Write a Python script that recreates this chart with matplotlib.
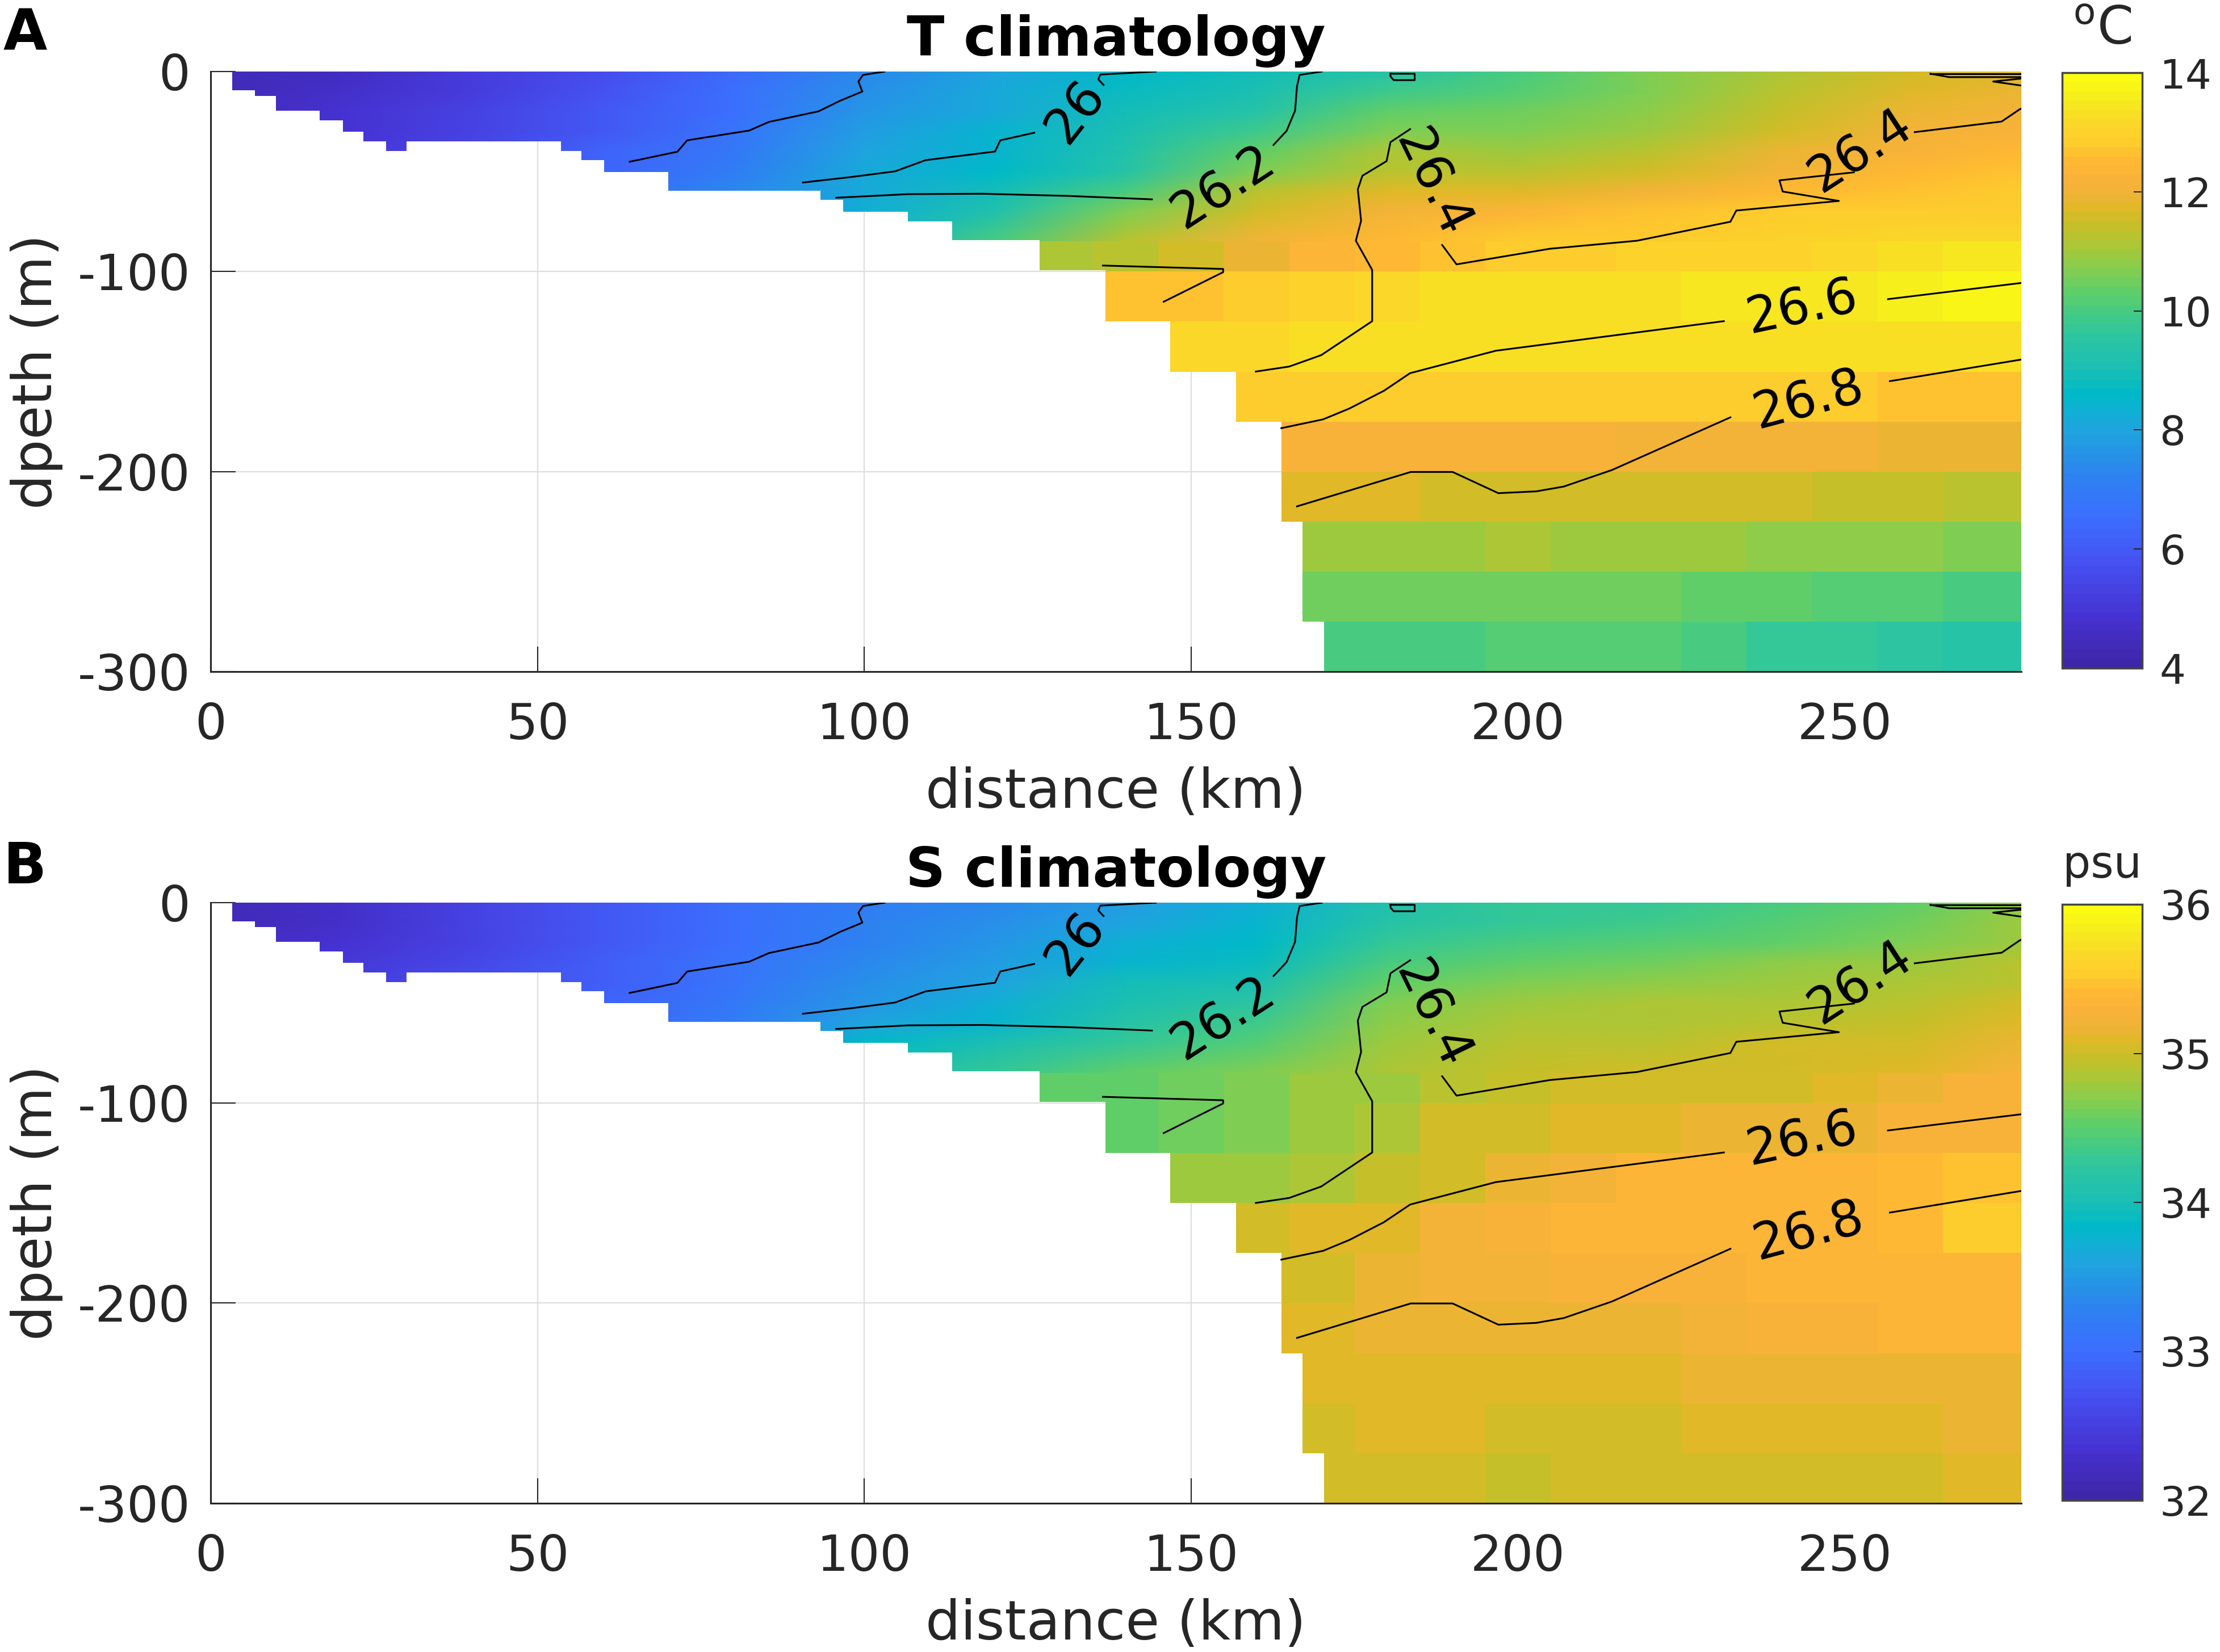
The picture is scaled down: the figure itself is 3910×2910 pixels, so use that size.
import matplotlib
matplotlib.use('Agg')
import matplotlib.pyplot as plt
import numpy as np
from matplotlib.colors import LinearSegmentedColormap
from matplotlib.patches import Polygon

plt.rcParams['font.family'] = ['DejaVu Sans']
plt.rcParams['axes.unicode_minus'] = False

# colour bar: position 0-1, rgb
cmap_pos = [0, 0.08, 0.17, 0.25, 0.32, 0.4, 0.46, 0.5, 0.56, 0.6, 0.64, 0.68, 0.72, 0.75,
            0.775, 0.8, 0.83, 0.86, 0.89, 0.92, 0.96, 1]
cmap_rgb = [(62, 38, 168), (70, 50, 210), (70, 80, 240), (60, 110, 255), (45, 130, 240),
            (30, 165, 222), (0, 185, 200), (25, 190, 180), (45, 197, 160), (70, 203, 130),
            (100, 207, 100), (140, 205, 75), (178, 197, 50), (200, 190, 40), (222, 185, 38),
            (240, 180, 55), (250, 178, 58), (255, 185, 50), (253, 205, 45), (250, 215, 40),
            (245, 235, 30), (252, 252, 18)]
parula = LinearSegmentedColormap.from_list(
    'parula', [(p, tuple(c / 255 for c in rgb)) for p, rgb in zip(cmap_pos, cmap_rgb)], N=64)

# shelf bottom, step by step
bathy_x = [3.3, 6.8, 10, 16.7, 20.2, 23.4, 26.8, 30, 53.6, 56.7, 60.2, 70, 93.3, 96.8,
           106.7, 113.4, 126.8, 136.9, 146.8, 156.9, 163.8, 167, 170.3, 277]
bathy_z = [9.3, 12.1, 19.7, 24.4, 30, 34.9, 39.6, 34.9, 39.6, 44.3, 50.1, 59.5, 64.2, 70,
           74.8, 84.2, 99.4, 125, 150, 175, 225, 275, 300]

# upper layer: values at nodes
node_x = [3, 20, 40, 60, 80, 100, 120, 140, 160, 180, 200, 220, 240, 260, 277]
node_z = [0, 10, 20, 30, 40, 50, 60, 70, 85]
temp_upper = [
    [4.4, 4.6, 5.2, 5.7, 6.4, 7.4, 8.0, 8.6, 8.9, 9.45, 10.0, 10.6, 11.05, 11.55, 11.8],
    [4.4, 4.7, 5.2, 5.8, 6.5, 7.5, 8.1, 8.7, 9.1, 9.8, 10.2, 10.7, 11.2, 11.7, 11.95],
    [4.5, 4.8, 5.3, 5.9, 6.6, 7.7, 8.2, 8.9, 9.4, 10.3, 10.45, 10.85, 11.35, 11.85, 12.1],
    [4.6, 4.9, 5.4, 6.0, 6.7, 7.9, 8.4, 9.1, 9.9, 10.7, 10.7, 11.0, 11.55, 12.0, 12.25],
    [4.6, 5.0, 5.5, 6.2, 6.9, 8.0, 8.5, 9.3, 10.3, 11.05, 11.0, 11.3, 11.85, 12.25, 12.45],
    [4.7, 5.1, 5.6, 6.3, 7.0, 8.1, 8.6, 9.4, 10.7, 11.3, 11.2, 11.55, 12.1, 12.5, 12.65],
    [4.7, 5.1, 5.6, 6.4, 7.3, 8.2, 8.9, 10.0, 11.2, 11.7, 11.8, 12.1, 12.45, 12.65, 12.75],
    [4.7, 5.1, 5.6, 6.4, 7.3, 8.3, 9.3, 10.6, 11.55, 12.0, 12.4, 12.65, 12.75, 12.85, 12.9],
    [4.7, 5.1, 5.6, 6.4, 7.3, 8.5, 10.0, 11.2, 12.0, 12.5, 12.75, 12.85, 13.0, 13.1, 13.2],
]
sal_upper = [
    [32.15, 32.3, 32.5, 32.75, 33.0, 33.2, 33.35, 33.5, 33.7, 34.08, 34.28, 34.3, 34.38, 34.55, 34.7],
    [32.15, 32.3, 32.5, 32.8, 33.0, 33.25, 33.4, 33.6, 33.78, 34.15, 34.3, 34.36, 34.45, 34.6, 34.75],
    [32.2, 32.35, 32.55, 32.8, 33.05, 33.3, 33.45, 33.7, 33.85, 34.3, 34.4, 34.45, 34.55, 34.68, 34.8],
    [32.25, 32.4, 32.6, 32.85, 33.1, 33.35, 33.5, 33.8, 33.9, 34.4, 34.5, 34.57, 34.7, 34.8, 34.88],
    [32.3, 32.45, 32.65, 32.85, 33.1, 33.4, 33.6, 33.95, 34.0, 34.55, 34.65, 34.7, 34.8, 34.85, 34.93],
    [32.3, 32.5, 32.7, 32.9, 33.15, 33.45, 33.7, 34.0, 34.2, 34.66, 34.75, 34.82, 34.85, 34.92, 35.0],
    [32.3, 32.5, 32.7, 32.9, 33.2, 33.6, 33.8, 34.15, 34.35, 34.74, 34.82, 34.87, 34.9, 34.98, 35.07],
    [32.3, 32.5, 32.7, 32.9, 33.3, 33.85, 34.0, 34.3, 34.45, 34.78, 34.88, 34.92, 35.0, 35.06, 35.15],
    [32.3, 32.5, 32.7, 32.9, 33.4, 34.0, 34.3, 34.5, 34.68, 34.86, 34.98, 35.0, 35.06, 35.12, 35.25],
]

# lower layer: flat cells
cell_x = [125, 135, 145, 155, 165, 175, 185, 195, 205, 215, 225, 235, 245, 255, 265, 277]
cell_z = [85, 100, 125, 150, 175, 200, 225, 250, 275, 300]
temp_lower = [
    [11.05, 11.3, 11.6, 11.95, 12.4, 12.5, 12.65, 12.8, 12.9, 12.95, 13.0, 13.05, 13.2, 13.35, 13.5],
    [12.6, 12.6, 12.6, 12.8, 12.95, 13.1, 13.25, 13.25, 13.3, 13.35, 13.4, 13.4, 13.5, 13.55, 13.7],
    [13.1, 13.1, 13.1, 13.15, 13.3, 13.3, 13.25, 13.25, 13.25, 13.25, 13.25, 13.3, 13.3, 13.3, 13.35],
    [12.85, 12.85, 12.85, 12.85, 12.85, 12.85, 12.85, 12.85, 12.8, 12.8, 12.75, 12.75, 12.75, 12.7, 12.7],
    [12.25, 12.25, 12.25, 12.25, 12.25, 12.25, 12.25, 12.25, 12.25, 12.05, 12.05, 12.05, 12.05, 11.85, 11.85],
    [11.75, 11.75, 11.75, 11.75, 11.75, 11.75, 11.6, 11.6, 11.6, 11.6, 11.6, 11.6, 11.45, 11.45, 11.3],
    [11.0, 11.0, 11.0, 11.0, 11.0, 11.0, 11.0, 11.1, 11.0, 11.0, 11.0, 10.8, 10.8, 10.8, 10.65],
    [10.5, 10.5, 10.5, 10.5, 10.5, 10.5, 10.5, 10.5, 10.5, 10.5, 10.4, 10.4, 10.2, 10.2, 9.95],
    [10.0, 10.0, 10.0, 10.0, 10.0, 10.0, 10.0, 10.1, 10.1, 10.1, 10.0, 9.7, 9.7, 9.55, 9.4],
]
sal_lower = [
    [34.5, 34.55, 34.6, 34.66, 34.78, 34.8, 34.88, 34.95, 35.0, 35.0, 35.02, 35.06, 35.12, 35.15, 35.25],
    [34.5, 34.55, 34.6, 34.66, 34.75, 34.82, 35.02, 35.05, 35.1, 35.1, 35.15, 35.15, 35.15, 35.28, 35.28],
    [34.7, 34.7, 34.75, 34.78, 34.82, 34.95, 35.05, 35.15, 35.2, 35.32, 35.32, 35.32, 35.35, 35.4, 35.45],
    [35.0, 35.0, 35.0, 35.0, 35.1, 35.1, 35.2, 35.25, 35.32, 35.34, 35.34, 35.36, 35.36, 35.4, 35.5],
    [35.06, 35.06, 35.06, 35.06, 35.06, 35.15, 35.2, 35.22, 35.25, 35.25, 35.25, 35.32, 35.32, 35.36, 35.36],
    [35.08, 35.08, 35.08, 35.08, 35.08, 35.13, 35.13, 35.13, 35.13, 35.18, 35.2, 35.25, 35.28, 35.34, 35.34],
    [35.08, 35.08, 35.08, 35.08, 35.08, 35.08, 35.08, 35.1, 35.1, 35.1, 35.13, 35.13, 35.15, 35.15, 35.18],
    [35.03, 35.03, 35.03, 35.03, 35.03, 35.08, 35.08, 35.03, 35.03, 35.05, 35.08, 35.1, 35.1, 35.12, 35.15],
    [35.02, 35.02, 35.02, 35.02, 35.02, 35.02, 35.02, 34.98, 35.02, 35.02, 35.02, 35.06, 35.06, 35.06, 35.1],
]

# isopycnals, (distance km, depth m)
isopycnals = [
    [(64.1, 45.1), (71.4, 40.1), (72.9, 34.4), (82.4, 29.5), (85.4, 25.2), (93, 19.9),
     (96.3, 14.6), (99.7, 10), (99.1, 5), (99.8, 1.7), (103.1, 0)],
    [(90.6, 55.5), (98.1, 52.7), (104.7, 49.9), (109.4, 44.3), (120, 40), (120.8, 34.4), (126, 30.6)],
    [(136.6, 6.7), (135.8, 3.9), (136.1, 1.5), (144.6, 0)],
    [(95.7, 63.1), (106.7, 61.3), (118, 61.1), (131.3, 62.2), (144, 63.9)],
    [(162.6, 36.7), (164.6, 29.7), (165.9, 19.6), (166.2, 7.3), (166.6, 1.7), (170, 0)],
    [(180.5, 1.1), (184.2, 1.1), (184.2, 4.3), (181, 4.3), (180.5, 2.5), (180.5, 1.1)],
    [(136.5, 97), (154.9, 98.7), (154.9, 100.3), (145.8, 115.1)],
    [(159.9, 150), (165, 147.5), (169.9, 141.8), (177.7, 124.8), (177.7, 99.2), (175.2, 84.6), (176, 74.6),
     (175.5, 58.9), (176.2, 52.1), (179.9, 44.8), (180.5, 35.3), (183.5, 28.8)],
    [(188.4, 86.7), (190.6, 96.4), (204.9, 88.6), (218.2, 84.6), (232.5, 75.1), (233.4, 69.5),
     (249.1, 64.7), (240.5, 60), (240, 54.4), (251.4, 50.4)],
    [(260.7, 30.3), (274, 25), (276.7, 19), (277, 18.5)],
    [(263.1, 1.1), (277, 1.1)],
    [(263.1, 1.1), (266, 2.8), (277, 2.8)],
    [(277, 3.5), (272.7, 5), (277, 7)],
    [(163.8, 178.3), (170.2, 173.9), (174.2, 168.5), (179.5, 159.6), (183.5, 150.8), (196.6, 139.6),
     (231.5, 124.8)],
    [(256.6, 113.8), (277, 105.7)],
    [(166.2, 217.4), (183.6, 200.2), (190, 200.2), (197, 210.8), (202.8, 209.9), (207, 207.5), (214.4, 199.2),
     (232.5, 172.9)],
    [(256.9, 154.8), (277, 144)],
]
label_text = ['26', '26.2', '26.4', '26.4', '26.6', '26.8']
label_x = [132.3, 154.9, 186.8, 252.4, 243.5, 244.5]
label_z = [20.2, 57.7, 56, 39.8, 118.3, 164.5]
label_rot = [52, 33, -64, 33, 12, 15]

titles = ['T climatology', 'S climatology']
panel_tags = ['A', 'B']
unit_labels = ['$\\mathregular{^{o}}$C', 'psu']
x_ticks = [0, 50, 100, 150, 200, 250]
y_ticks = [0, -100, -200, -300]
temp_ticks = [4, 6, 8, 10, 12, 14]
sal_ticks = [32, 33, 34, 35, 36]

W, H = 3910, 2910
gray = '#262626'
fig = plt.figure(figsize=(W / 100, H / 100), dpi=100)


def box(l, t, r, b):
    return [l / W, 1 - b / H, (r - l) / W, (b - t) / H]


def bottom_outline():
    pts = [(bathy_x[0], 0)]
    for i, z in enumerate(bathy_z):
        pts.append((bathy_x[i], -z))
        pts.append((bathy_x[i + 1], -z))
    pts.append((bathy_x[-1], 0))
    return pts


def draw_panel(ax, cax, upper, lower, vmin, vmax, ticks, title, unit, tag, tag_top):
    ax.set_axisbelow(True)
    ax.grid(True, color='#dedede', linewidth=1.6)
    m1 = ax.pcolormesh(node_x, -np.array(node_z), np.array(upper), shading='gouraud',
                       cmap=parula, vmin=vmin, vmax=vmax, zorder=2)
    m2 = ax.pcolormesh(cell_x, -np.array(cell_z), np.array(lower), shading='flat',
                       cmap=parula, vmin=vmin, vmax=vmax, zorder=2, linewidth=0, antialiased=False)
    clip = Polygon(bottom_outline(), closed=True, transform=ax.transData)
    m1.set_clip_path(clip)
    m2.set_clip_path(clip)

    for line in isopycnals:
        xs, zs = zip(*line)
        ax.plot(xs, -np.array(zs), color='k', linewidth=2.2, zorder=3)
    for s, x, z, r in zip(label_text, label_x, label_z, label_rot):
        ax.text(x, -z, s, fontsize=64, rotation=r, rotation_mode='anchor',
                ha='center', va='center', color='k', zorder=4)

    ax.set_xlim(0, 277)
    ax.set_ylim(-300, 0)
    ax.set_xticks(x_ticks)
    ax.set_yticks(y_ticks)
    ax.tick_params(direction='in', length=32, width=1.5, labelsize=63, colors=gray)
    ax.tick_params(axis='x', pad=38)
    ax.tick_params(axis='y', pad=26)
    ax.spines['top'].set_visible(False)
    ax.spines['right'].set_visible(False)
    ax.spines['left'].set_color(gray)
    ax.spines['bottom'].set_color(gray)
    ax.spines['left'].set_linewidth(2.2)
    ax.spines['bottom'].set_linewidth(2.2)
    ax.set_xlabel('distance (km)', fontsize=70, color=gray, labelpad=22)
    ax.set_ylabel('dpeth (m)', fontsize=70, color=gray, labelpad=18)
    ax.set_title(title, fontsize=70, fontweight='bold', color='k', pad=20)

    cb = fig.colorbar(m1, cax=cax)
    cb.set_ticks(ticks)
    cb.ax.tick_params(direction='in', length=11, width=1.5, labelsize=52, colors=gray, pad=22)
    cb.outline.set_edgecolor('#444444')
    cb.outline.set_linewidth(2.5)
    cax.text(0.5, 1.03, unit, transform=cax.transAxes, ha='center', va='bottom',
             fontsize=66 if unit != 'psu' else 56, color=gray)
    fig.text(6 / W, 1 - tag_top / H, tag, fontsize=72, fontweight='bold', color='k',
             ha='left', va='top')


ax1 = fig.add_axes(box(371, 126, 3560, 1183))
cax1 = fig.add_axes(box(3632, 128, 3773, 1177))
ax2 = fig.add_axes(box(371, 1590, 3560, 2648))
cax2 = fig.add_axes(box(3632, 1593, 3773, 2643))

draw_panel(ax1, cax1, temp_upper, temp_lower, 4, 14, temp_ticks, titles[0], unit_labels[0], panel_tags[0], 12)
draw_panel(ax2, cax2, sal_upper, sal_lower, 32, 36, sal_ticks, titles[1], unit_labels[1], panel_tags[1], 1480)

fig.savefig('out.png', dpi=100)
